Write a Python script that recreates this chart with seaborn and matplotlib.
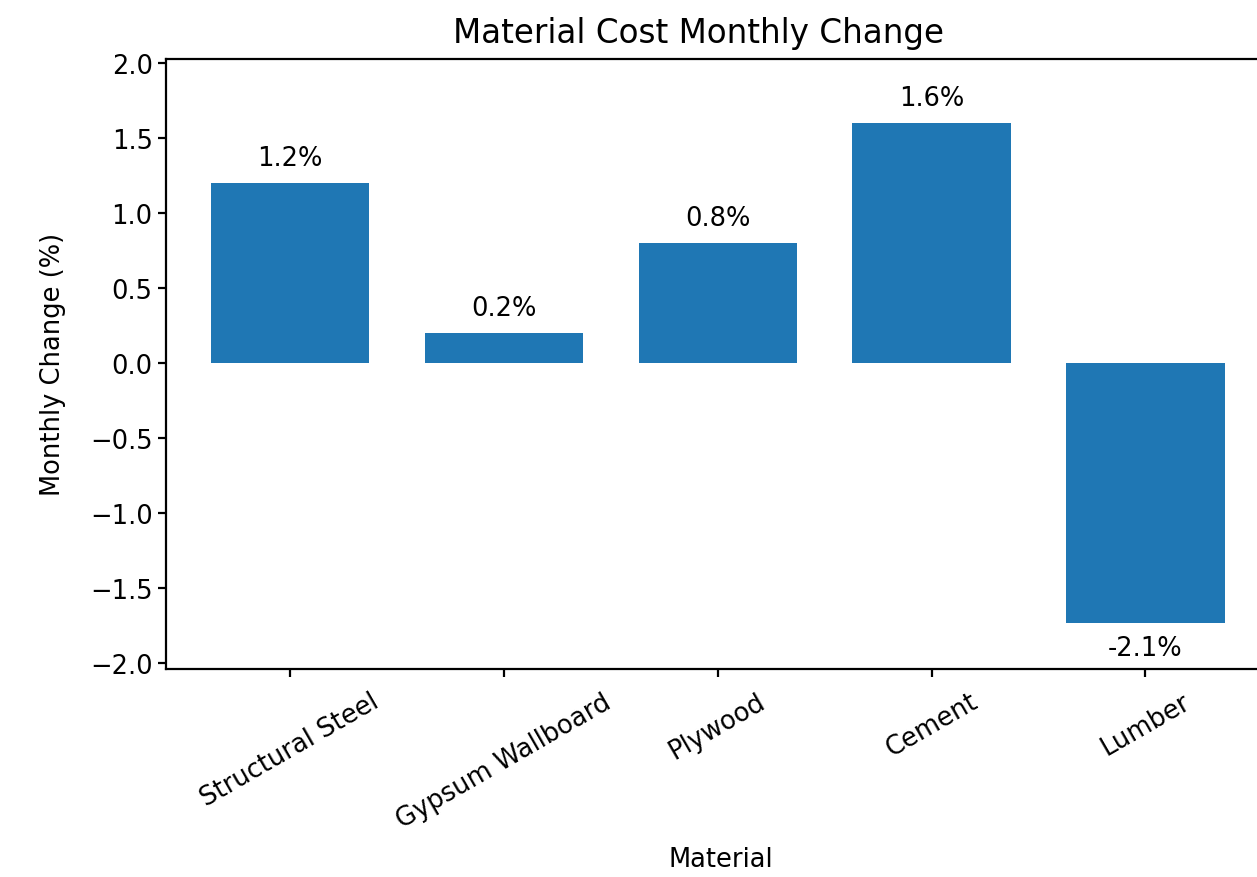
import pandas as pd
import matplotlib
matplotlib.use("Agg")
import matplotlib.pyplot as plt
import seaborn as sns

# chart data
materials = ["Structural Steel", "Gypsum Wallboard", "Plywood", "Cement", "Lumber"]
monthly_change = [1.2, 0.2, 0.8, 1.6, -1.73]
value_labels = ["1.2%", "0.2%", "0.8%", "1.6%", "-2.1%"]

sns.set_theme(style="white")
plt.rcParams.update({
    "font.family": ["DejaVu Sans"],
    "axes.edgecolor": "black",
    "axes.linewidth": 1.6,
    "xtick.bottom": True,
    "ytick.left": True,
    "xtick.major.size": 6,
    "ytick.major.size": 6,
    "xtick.major.width": 1.6,
    "ytick.major.width": 1.6,
    "xtick.color": "black",
    "ytick.color": "black",
    "axes.labelcolor": "black",
    "text.color": "black",
})

df = pd.DataFrame({"Material": materials, "Change": monthly_change})

fig = plt.figure(figsize=(12.57, 8.78), dpi=100)
ax = fig.add_axes([0.132, 0.237, 0.883, 0.695])

sns.barplot(data=df, x="Material", y="Change", color="#1f77b4",
            saturation=1, width=0.74, linewidth=0, ax=ax)

for i, (v, lab) in enumerate(zip(monthly_change, value_labels)):
    if v >= 0:
        ax.text(i, v + 0.08, lab, ha="center", va="bottom", fontsize=18.5)
    else:
        ax.text(i, v - 0.08, lab, ha="center", va="top", fontsize=18.5)

ax.set_ylim(-2.037, 2.03)
ax.set_xlim(-0.58, 4.61)
ax.set_yticks([-2.0, -1.5, -1.0, -0.5, 0.0, 0.5, 1.0, 1.5, 2.0])
ax.tick_params(axis="both", labelsize=18.5)
ax.tick_params(axis="x", pad=8)
plt.setp(ax.get_xticklabels(), rotation=30, ha="center")

ax.set_title("Material Cost Monthly Change", fontsize=23.5, pad=12, x=0.48)
ax.set_xlabel("Material", fontsize=18.5, labelpad=10)
ax.set_ylabel("Monthly Change (%)", fontsize=18.5, labelpad=17)

fig.savefig("out.png", dpi=100)
